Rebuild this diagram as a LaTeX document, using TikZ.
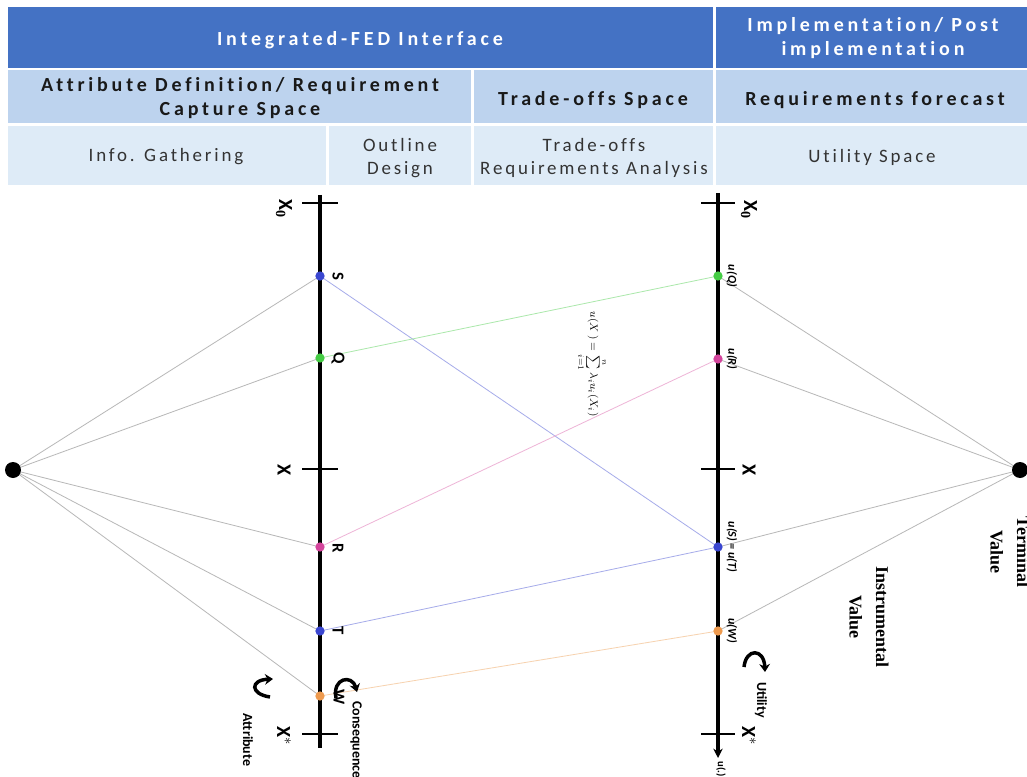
\documentclass[tikz,border=0pt]{standalone}
\usepackage{fontspec}
\setmainfont{Liberation Serif}
\newfontfamily\hdr[LetterSpace=19,Ligatures=NoCommon]{Carlito}
\newfontfamily\hdrb[LetterSpace=15,Ligatures=NoCommon]{Carlito}
\newfontfamily\lab{Carlito}
\usetikzlibrary{arrows.meta}
\definecolor{hblue}{HTML}{4472C4}
\definecolor{hmid}{HTML}{BDD3EE}
\definecolor{hlight}{HTML}{DEEBF7}
\definecolor{dblue}{HTML}{3A46D0}
\definecolor{dgreen}{HTML}{44CC44}
\definecolor{dpink}{HTML}{D4449C}
\definecolor{dorange}{HTML}{EE9A4E}
\begin{document}
\begin{tikzpicture}[x=0.75pt,y=-0.75pt,
  h1/.style={text=white,font=\hdr\fontsize{15}{17.5}\selectfont\bfseries,align=center,inner sep=0pt},
  h2/.style={text=black!90,font=\hdr\fontsize{15}{17.5}\selectfont\bfseries,align=center,inner sep=0pt},
  h3/.style={text=black!80,font=\hdrb\fontsize{14.2}{17}\selectfont,align=center,inner sep=0pt},
  axis/.style={line width=2.8pt,black},
  tick/.style={line width=2.2pt,black},
  link/.style={line width=0.6pt,black!28},
  pt/.style={circle,fill=#1,inner sep=0pt,minimum size=7pt},
  bigdot/.style={circle,fill=black,inner sep=0pt,minimum size=12pt},
  plab/.style={rotate=-90,font=\lab\bfseries\fontsize{12.5}{14}\selectfont,inner sep=0pt},
  xlab/.style={rotate=-90,font=\lab\bfseries\fontsize{15}{17}\selectfont,inner sep=0pt},
  ulab/.style={rotate=-90,font=\lab\bfseries\itshape\fontsize{9}{10}\selectfont,inner sep=0pt},
  small/.style={rotate=-90,font=\lab\bfseries\fontsize{10.5}{12}\selectfont,inner sep=0pt},
  curv/.style={line width=2.6pt,-{Stealth[length=6pt,width=8pt]}},
  val/.style={rotate=-90,font=\bfseries\fontsize{13.5}{20}\selectfont,align=center,inner sep=0pt}
]
\useasboundingbox (0,0) rectangle (1027,777);
\fill[white] (0,0) rectangle (1027,777);
% header
\fill[hblue] (8,7) rectangle (713,68);
\fill[hblue] (716,7) rectangle (1027,68);
\fill[hmid] (8,70) rectangle (471,123);
\fill[hmid] (474,70) rectangle (713,123);
\fill[hmid] (716,70) rectangle (1027,123);
\fill[hlight] (8,126) rectangle (326,185);
\fill[hlight] (329,126) rectangle (471,185);
\fill[hlight] (474,126) rectangle (713,185);
\fill[hlight] (716,126) rectangle (1027,185);
\node[h1] (t1) at (360,40) {Integrated-FED Interface};
\node[h1] (t2) at (873,38) {Implementation/ Post\\implementation};
\node[h2] (t3) at (240,98) {Attribute Definition/ Requirement\\Capture Space};
\node[h2] (t4) at (593,100) {Trade-offs Space};
\node[h2] (t5) at (875,100) {Requirements forecast};
\node[h3] (t6) at (166,157) {Info. Gathering};
\node[h3] (t7) at (400,158) {Outline\\Design};
\node[h3] (t8) at (594,158) {Trade-offs\\Requirements Analysis};
\node[h3] (t9) at (872,157) {Utility Space};
% positions
\coordinate (L) at (13,470);
\coordinate (TV) at (1020,470);
\coordinate (S) at (320,276);
\coordinate (Q) at (320,358);
\coordinate (R) at (320,547);
\coordinate (T) at (320,631);
\coordinate (W) at (320,696);
\coordinate (uQ) at (718,276);
\coordinate (uR) at (718,359);
\coordinate (uS) at (718,547);
\coordinate (uW) at (718,631);
\coordinate (Ltop) at (320,195);
\coordinate (Lbot) at (320,748);
\coordinate (Rtop) at (718,193);
\coordinate (Rbot) at (718,758);
% links
\foreach \p in {S,Q,R,T,W} \draw[link] (L) -- (\p);
\foreach \p in {uQ,uR,uS,uW} \draw[link] (\p) -- (TV);
\draw[line width=0.6pt,color=dblue!45] (S) -- (uS);
\draw[line width=0.6pt,color=dgreen!45] (Q) -- (uQ);
\draw[line width=0.6pt,color=dpink!40] (R) -- (uR);
\draw[line width=0.6pt,color=dblue!45] (T) -- (uS);
\draw[line width=0.6pt,color=dorange!45] (W) -- (uW);
% axes
\draw[axis] (Ltop) -- (Lbot);
\draw[axis,-{Stealth[length=7pt,width=7pt]}] (Rtop) -- (Rbot);
\foreach \y in {203,469,734} {
  \draw[tick] (302,\y) -- (338,\y);
  \draw[tick] (701,\y) -- (735,\y);
}
% dots
\node[bigdot] (Ld) at (L) {};
\node[bigdot] (TVd) at (TV) {};
\node[pt=dblue] (Sd) at (S) {};
\node[pt=dgreen] (Qd) at (Q) {};
\node[pt=dpink] (Rd) at (R) {};
\node[pt=dblue] (Td) at (T) {};
\node[pt=dorange] (Wd) at (W) {};
\node[pt=dgreen] (uQd) at (uQ) {};
\node[pt=dpink] (uRd) at (uR) {};
\node[pt=dblue] (uSd) at (uS) {};
\node[pt=dorange] (uWd) at (uW) {};
% labels
\node[plab] (lS) at (338,276) {S};
\node[plab] (lQ) at (338,358) {Q};
\node[plab] (lR) at (338,548) {R};
\node[plab] (lT) at (338,631) {T};
\node[plab] (lW) at (339,697) {W};
\node[xlab] (lx0) at (284,209) {X$_{\mathbf 0}$};
\node[xlab] (lx) at (284,470) {X};
\node[xlab] (lxs) at (284,736) {X$^{*}$};
\node[xlab] (rx0) at (749,210) {X$_{\mathbf 0}$};
\node[xlab] (rx) at (749,470) {X};
\node[xlab] (rxs) at (749,736) {X$^{*}$};
\node[ulab] (luQ) at (732,276) {u(Q)};
\node[ulab] (luR) at (732,359) {u(R)};
\node[ulab] (luS) at (732,547) {u(S) = u(T)};
\node[ulab] (luW) at (732,631) {u(W)};
\node[rotate=-90,inner sep=0pt,font=\footnotesize] (form) at (592,364) {$u(X^{\,})=\sum\limits_{i=1}^{n}\lambda_i u_i(X_i)$};
\node[small,font=\lab\bfseries\fontsize{8}{9}\selectfont] (udot) at (721,769) {u(.)};
% curved arrows
\draw[curv] (270,697) .. controls (250,694) and (250,680) .. (273,679);
\node[small] (attr) at (248,740) {Attribute};
\draw[curv] (336,698) .. controls (332,678) and (352,674) .. (357,692);
\node[small,anchor=west] (cons) at (356,701) {Consequence};
\draw[curv] (744,667) .. controls (746,648) and (764,648) .. (765,672);
\node[small] (util) at (761,700) {Utility};
% value labels
\node[val] (inst) at (869,617) {Instrumental\\Value};
\node[val] (term) at (1010,552) {Terminal\\Value};
\end{tikzpicture}
\end{document}
